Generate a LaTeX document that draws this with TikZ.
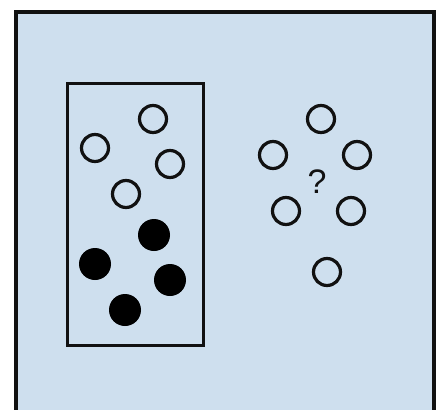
\documentclass[tikz,border=0pt]{standalone}
\usepackage{fontspec}
\setsansfont{Liberation Sans}
\usetikzlibrary{positioning}
\definecolor{setbg}{HTML}{CEDFEE}
\definecolor{setline}{HTML}{111111}
\tikzset{
  frame/.style   ={draw=setline, line width=3.5pt, fill=setbg},
  sample/.style  ={draw=setline, line width=3pt},
  opendot/.style ={circle, draw=setline, line width=3.2pt, minimum size=27pt,
                   inner sep=0pt},
  fulldot/.style ={circle, fill=black, minimum size=32pt, inner sep=0pt},
  query/.style   ={font=\sffamily\fontsize{34}{36}\selectfont, text=setline,
                   inner sep=0pt},
}
\begin{document}
\begin{tikzpicture}[x=1pt,y=-1pt]
  \useasboundingbox (0,0) rectangle (437,410);
  \clip (0,0) rectangle (437,410);
  % outer frame
  \draw[frame] (16,12) rectangle (434,420);
  \draw[sample] (67,83) rectangle (203,345);

  % sampled points
  \foreach [count=\i] \p in {(153,119),(95,148),(170,164),(126,194)} {
    \node[opendot] (w\i) at \p {};
  }
  \foreach [count=\i] \p in {(154,235),(95,264),(170,280),(125,310)} {
    \node[fulldot] (b\i) at \p {};
  }

  % unknown points
  \foreach [count=\i] \p in {(321,119),(273,155),(357,155),(286,211),(351,211),(327,272)} {
    \node[opendot] (u\i) at \p {};
  }
  \node[query] (q) at (317,182) {?};
\end{tikzpicture}
\end{document}
